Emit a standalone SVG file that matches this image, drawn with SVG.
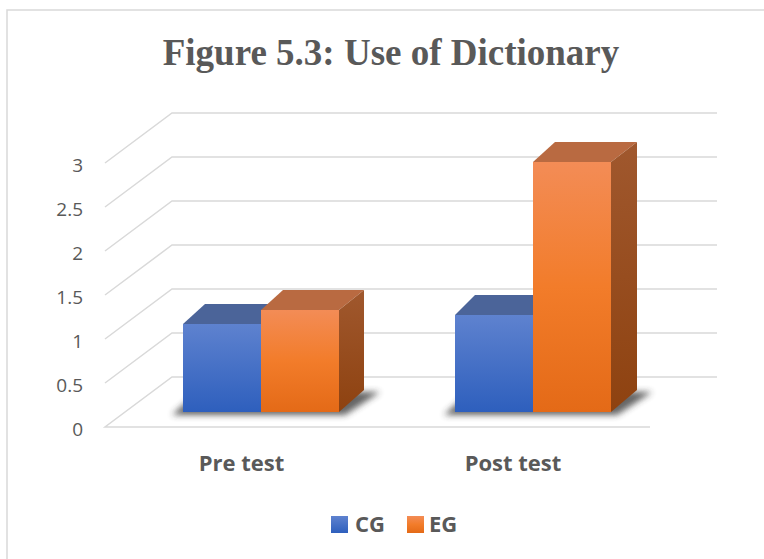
<svg xmlns="http://www.w3.org/2000/svg" width="764" height="559" viewBox="0 0 764 559">
  <defs>
    <linearGradient id="gBlue" x1="0" y1="0" x2="0" y2="1">
      <stop offset="0" stop-color="#5e82cf"/>
      <stop offset="1" stop-color="#2e5fbd"/>
    </linearGradient>
    <linearGradient id="gOrange" x1="0" y1="0" x2="0" y2="1">
      <stop offset="0" stop-color="#f38c56"/>
      <stop offset="0.5" stop-color="#f27c2a"/>
      <stop offset="1" stop-color="#e46a17"/>
    </linearGradient>
    <linearGradient id="gSide" x1="0" y1="0" x2="0" y2="1">
      <stop offset="0" stop-color="#a0582e"/>
      <stop offset="1" stop-color="#8e4210"/>
    </linearGradient>
    <filter id="blur" x="-20%" y="-50%" width="140%" height="200%">
      <feGaussianBlur stdDeviation="3"/>
    </filter>
  </defs>
  <style>
    .grid { stroke: #d9d9d9; stroke-width: 1.5; fill: none; }
    .tick { font-family: "Open Sans", "Liberation Sans", sans-serif; font-size: 19px; fill: #595959; text-anchor: end; }
    .cat { font-family: "Open Sans", "Liberation Sans", sans-serif; font-size: 22px; font-weight: bold; fill: #595959; text-anchor: middle; }
    .leg { font-family: "Open Sans", "Liberation Sans", sans-serif; font-size: 22px; font-weight: bold; fill: #595959; }
    .title { font-family: "Liberation Serif", "Times New Roman", serif; font-size: 37px; font-weight: bold; fill: #595959; text-anchor: middle; }
    .topB { fill: #4b6499; }
    .topO { fill: #b96a41; }
    .frontB { fill: url(#gBlue); }
    .frontO { fill: url(#gOrange); }
    .sideO { fill: url(#gSide); }
    .shadow { fill: #303030; opacity: 0.75; filter: url(#blur); }
  </style>

  <rect x="0" y="0" width="764" height="559" fill="#ffffff"/>
  <rect x="7" y="10" width="780" height="580" fill="#ffffff" stroke="#d9d9d9" stroke-width="1.5"/>

  <text class="title" x="391" y="65">Figure 5.3: Use of Dictionary</text>

  <g id="gridlines">
    <polyline class="grid" points="105,163 172,113 717,113"/>
    <polyline class="grid" points="105,207 172,157 717,157"/>
    <polyline class="grid" points="105,251 172,201 717,201"/>
    <polyline class="grid" points="105,295 172,245 717,245"/>
    <polyline class="grid" points="105,339 172,289 717,289"/>
    <polyline class="grid" points="105,383 172,333 717,333"/>
    <polyline class="grid" points="650,427 105,427 172,377 717,377"/>
  </g>

  <g id="y-axis">
    <text class="tick" x="83" y="172">3</text>
    <text class="tick" x="83" y="216">2.5</text>
    <text class="tick" x="83" y="260">2</text>
    <text class="tick" x="83" y="304">1.5</text>
    <text class="tick" x="83" y="348">1</text>
    <text class="tick" x="83" y="392">0.5</text>
    <text class="tick" x="83" y="436">0</text>
  </g>

  <g id="pre-test">
    <polygon class="shadow" points="172,415 345,415 380,392 200,390"/>
    <g id="pre-cg">
      <polygon class="topB" points="183,324 205,304 283,304 261,324"/>
      <rect class="frontB" x="183" y="324" width="78" height="88"/>
    </g>
    <g id="pre-eg">
      <polygon class="topO" points="261,310 283,290 364,290 339,310"/>
      <polygon class="sideO" points="339,310 364,290 364,390 339,412"/>
      <rect class="frontO" x="261" y="310" width="78" height="102"/>
    </g>
  </g>

  <g id="post-test">
    <polygon class="shadow" points="444,415 617,415 652,392 472,390"/>
    <g id="post-cg">
      <polygon class="topB" points="455,315 475,295 557,295 533,315"/>
      <rect class="frontB" x="455" y="315" width="78" height="97"/>
    </g>
    <g id="post-eg">
      <polygon class="topO" points="533,162 555,142 637,142 611,162"/>
      <polygon class="sideO" points="611,162 637,142 637,390 611,412"/>
      <rect class="frontO" x="533" y="162" width="78" height="250"/>
    </g>
  </g>

  <g id="x-axis">
    <text class="cat" x="241.5" y="471">Pre test</text>
    <text class="cat" x="513" y="471">Post test</text>
  </g>

  <g id="legend">
    <rect class="frontB" x="331" y="516" width="17" height="17"/>
    <text class="leg" x="355" y="532">CG</text>
    <rect class="frontO" x="407" y="516" width="17" height="17"/>
    <text class="leg" x="429" y="532">EG</text>
  </g>
</svg>
